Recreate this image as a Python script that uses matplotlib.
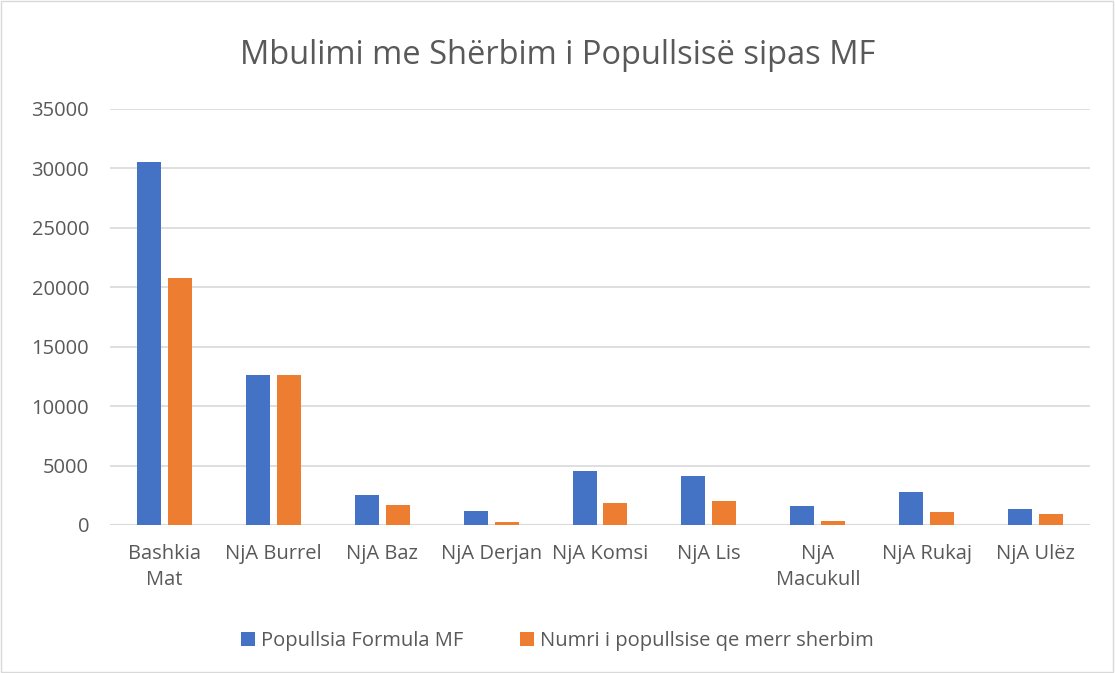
import matplotlib.pyplot as plt
import matplotlib.patches as mpatches
import numpy as np

plt.rcParams['font.family'] = ['Open Sans', 'DejaVu Sans']

# data
categories = ["Bashkia\nMat", "NjA Burrel", "NjA Baz", "NjA Derjan", "NjA Komsi",
              "NjA Lis", "NjA\nMacukull", "NjA Rukaj", "NjA Ulëz"]
populli_mf = [30500, 12600, 2490, 1190, 4520, 4100, 1580, 2770, 1380]
merr_sherbim = [20800, 12600, 1700, 230, 1840, 2030, 310, 1070, 960]
series_names = ["Popullsia Formula MF", "Numri i popullsise qe merr sherbim"]
yticks = [0, 5000, 10000, 15000, 20000, 25000, 30000, 35000]

blue = "#4472C4"
orange = "#ED7D31"
grey_txt = "#595959"

fig = plt.figure(figsize=(11.15, 6.73), dpi=100)
ax = fig.add_axes([110 / 1115, 1 - 525 / 673, 980 / 1115, 416 / 673])

x = np.arange(len(categories))
w = 0.22
off = 0.142
ax.bar(x - off, populli_mf, width=w, color=blue, label=series_names[0], zorder=3)
ax.bar(x + off, merr_sherbim, width=w, color=orange, label=series_names[1], zorder=3)

ax.set_xlim(-0.5, len(categories) - 0.5)
ax.set_ylim(0, 35000)
ax.set_yticks(yticks)
ax.set_yticklabels([str(v) for v in yticks])
ax.set_xticks(x)
ax.set_xticklabels(categories, linespacing=1.4)
ax.grid(axis='y', color="#D9D9D9", linewidth=1.2, zorder=0)
for s in ax.spines.values():
    s.set_visible(False)
ax.tick_params(axis='both', length=0, labelsize=14.5, colors=grey_txt)
ax.tick_params(axis='x', pad=14)
ax.tick_params(axis='y', pad=15)
ax.axhline(0, color="#D9D9D9", linewidth=1.5, zorder=2)

fig.text(0.5, 1 - 56 / 673, "Mbulimi me Shërbim i Popullsisë sipas MF",
         ha='center', va='center', fontsize=23.5, color=grey_txt)

fig.legend(loc='center', bbox_to_anchor=(0.5, 1 - 641 / 673), ncol=2, frameon=False,
           fontsize=14.5, labelcolor=grey_txt, handlelength=0.7, handleheight=0.7,
           handletextpad=0.3, columnspacing=2.8)

fig.patches.append(mpatches.Rectangle((0.001, 0.001), 0.997, 0.997, transform=fig.transFigure,
                                      fill=False, edgecolor="#D9D9D9", linewidth=1))

fig.savefig("out.png", dpi=100)
